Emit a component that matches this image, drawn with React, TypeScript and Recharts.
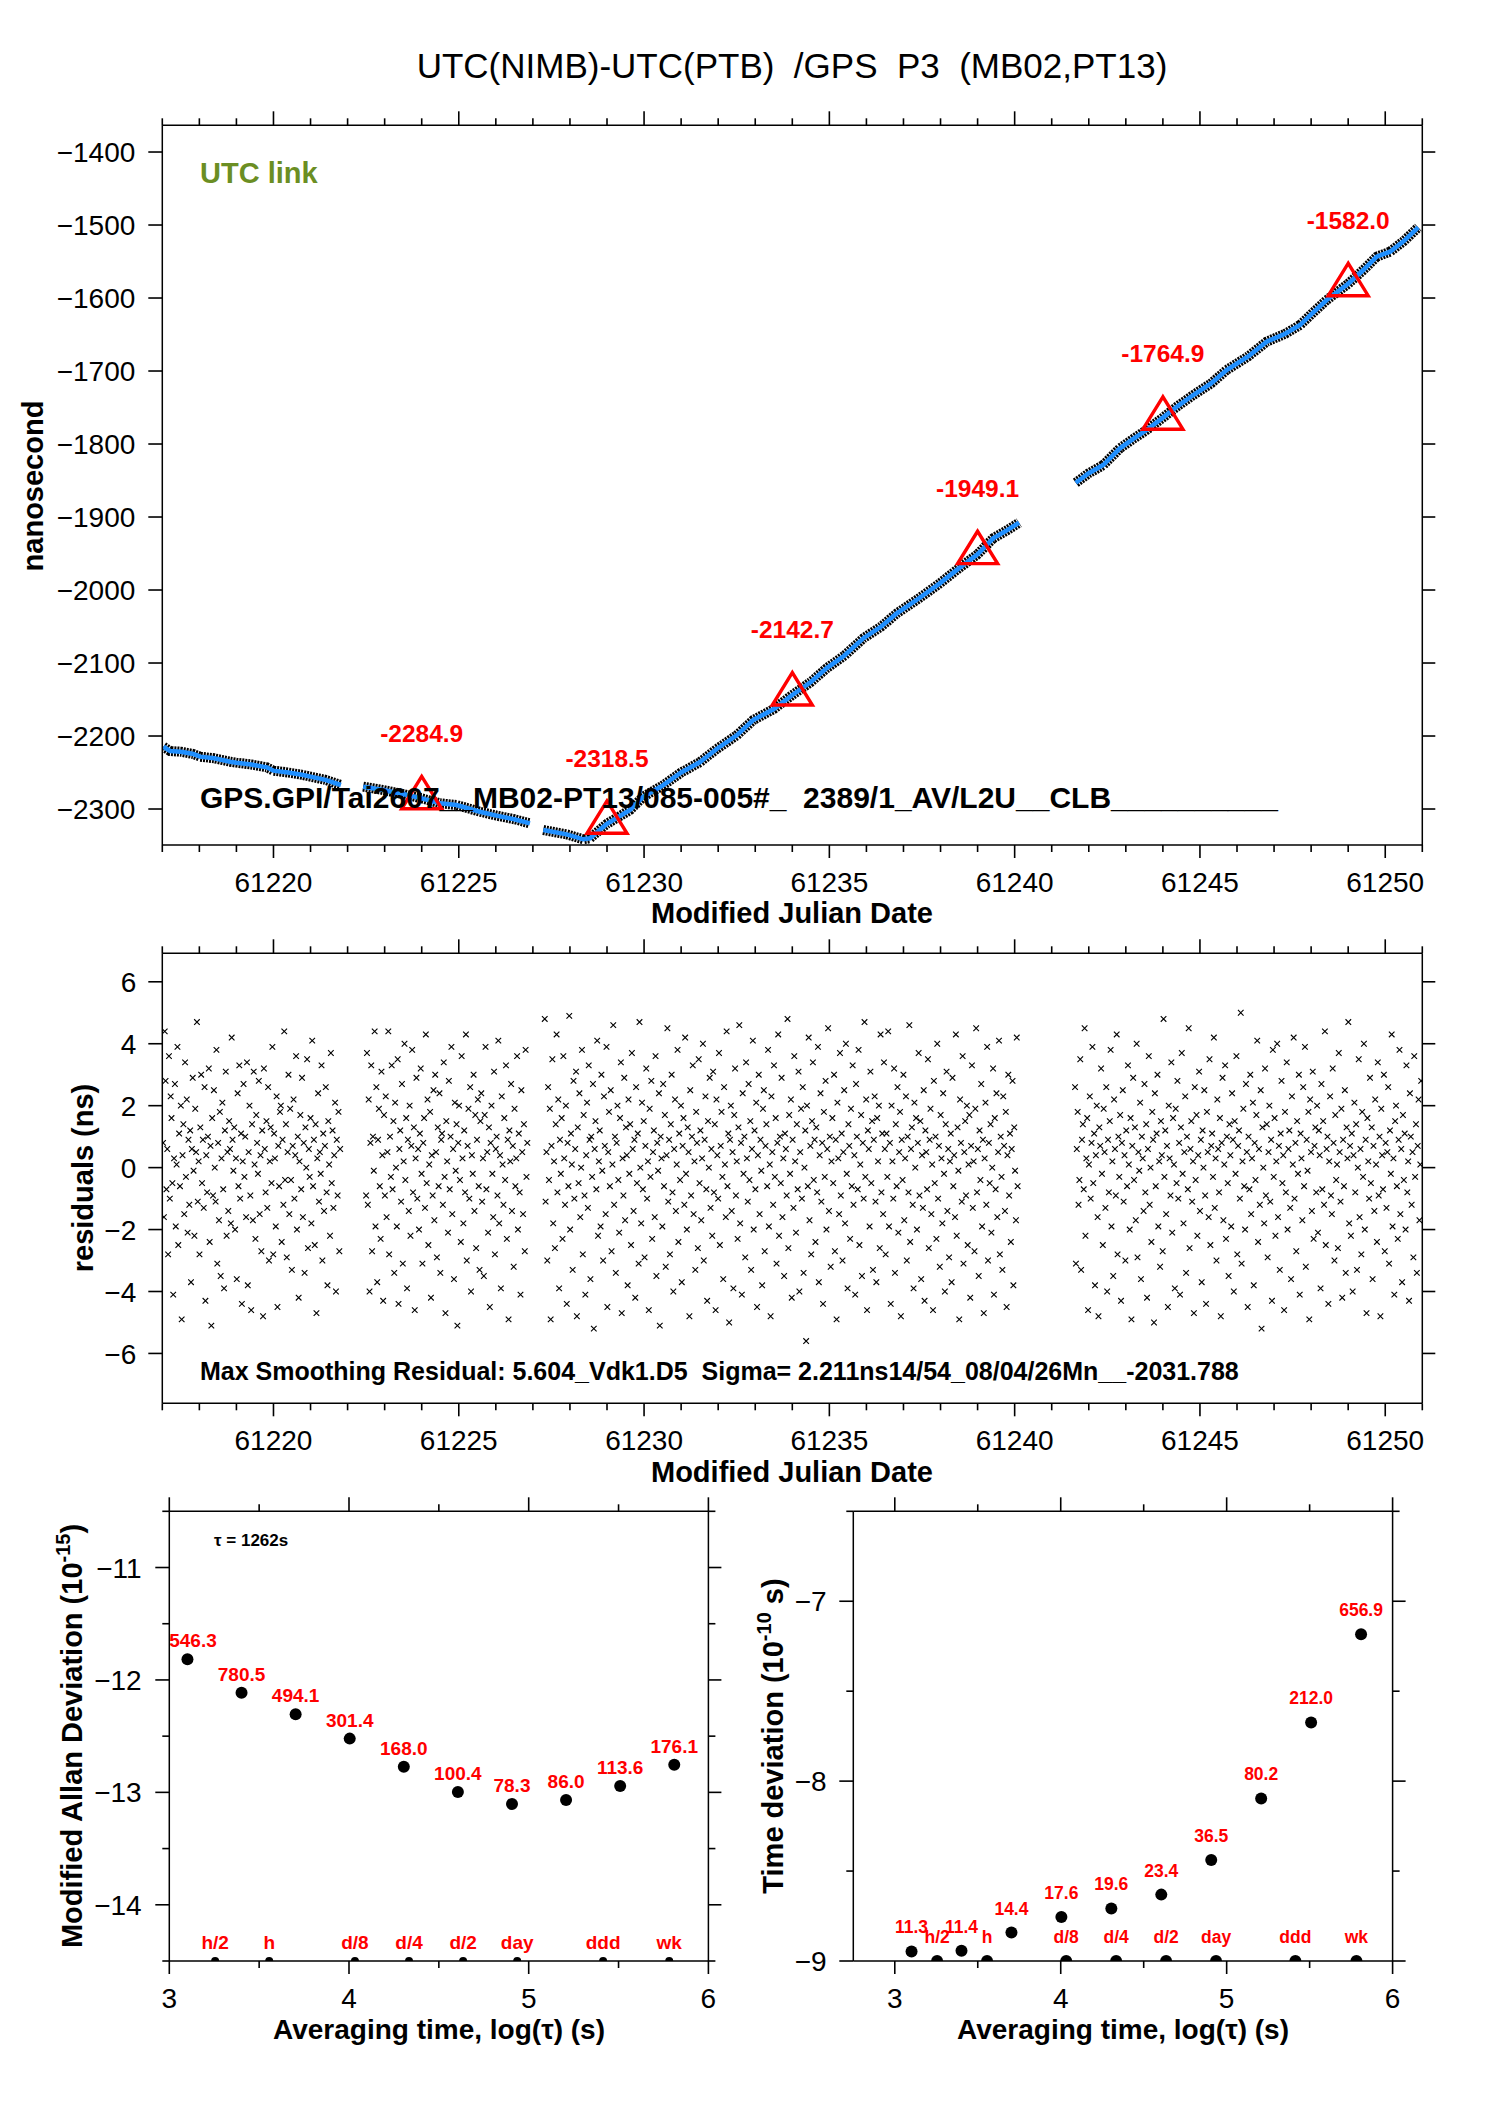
import React from 'react'
import { ComposedChart, Line, Scatter, XAxis, YAxis } from 'recharts'

const FONT = '"Liberation Sans", Arial, Helvetica, sans-serif'
const PAGE_W = 1488
const PAGE_H = 2105
const BLUE = '#1f8fff'
const RED = '#ff0000'

// ---------- top panel: smoothed UTC link (MJD, ns) ----------
const segAx = [61217.03, 61217.21, 61217.5, 61217.84, 61218.02, 61218.4, 61218.83, 61219.0, 61219.4, 61219.82, 61220.0, 61220.4, 61220.8, 61221.0, 61221.4, 61221.82]
const segAy = [-2214.7, -2220.5, -2221.5, -2224.7, -2228.3, -2230.5, -2235.2, -2236.5, -2239, -2242.9, -2247.5, -2250, -2253.4, -2255.7, -2260, -2267.1]
const segBx = [61222.42, 61222.96, 61223.5, 61224.0, 61224.49, 61224.94, 61225.57, 61226.02, 61226.5, 61226.92]
const segBy = [-2269.4, -2274, -2279.5, -2285.4, -2292.2, -2294.5, -2303.7, -2309, -2314, -2319.6]
const segCx = [61227.28, 61227.91, 61228.36, 61228.54, 61228.99, 61229.62, 61229.98, 61230.5, 61231.0, 61231.5, 61231.96, 61232.5, 61232.95, 61233.5, 61234.0, 61234.5, 61234.93, 61235.4, 61235.92, 61236.4, 61236.82, 61237.4, 61237.98, 61238.5, 61239.0, 61239.42, 61239.8, 61240.12]
const segCy = [-2328.8, -2334.7, -2341.5, -2340.1, -2320.5, -2301.4, -2283.1, -2268, -2250, -2236, -2217.8, -2199, -2178, -2163, -2143.8, -2126, -2107, -2090, -2066, -2050, -2032, -2012, -1990.9, -1970, -1951, -1929.2, -1918, -1907.8]
const segDx = [61241.65, 61242.0, 61242.39, 61242.84, 61243.2, 61243.56, 61244.01, 61244.4, 61244.82, 61245.3, 61245.72, 61246.3, 61246.8, 61247.3, 61247.7, 61248.05, 61248.42, 61249.0, 61249.4, 61249.77, 61250.13, 61250.5, 61250.89]
const segDy = [-1853, -1840, -1828.8, -1805.9, -1793, -1780.8, -1763.5, -1748, -1732.9, -1717, -1698.6, -1680, -1659.8, -1649, -1637, -1620, -1602.7, -1580.5, -1562, -1543.4, -1536.5, -1522, -1503.2]

const calibMjd = [61224, 61229, 61234, 61239, 61244, 61249]
const calibNs = [-2284.9, -2318.5, -2142.7, -1949.1, -1764.9, -1582.0]

const mjdTicks = [61217, 61218, 61219, 61220, 61221, 61222, 61223, 61224, 61225, 61226, 61227, 61228, 61229, 61230, 61231, 61232, 61233, 61234, 61235, 61236, 61237, 61238, 61239, 61240, 61241, 61242, 61243, 61244, 61245, 61246, 61247, 61248, 61249, 61250, 61251]
const nsTicks = [-2300, -2200, -2100, -2000, -1900, -1800, -1700, -1600, -1500, -1400]

// ---------- residuals (ns), one list per continuous stretch ----------
const resSpanA = [61217.02, 61221.8]
const resA = [
  0.8, -1.6, 4.4, 2.8, -0.7, 0.6, -2.8, 3.6, -1.0, 2.3, 1.6, -0.5, -4.1, 0.3, 2.7, -1.9, 0.1, 3.9, -2.5, 1.1,
  -0.6, 2.0, -4.9, 0.4, 1.4, -1.5, 3.4, -0.3, 2.2, -2.1, 0.9, -1.2, 1.2, -3.7, 0.6, 2.9, -0.1, -2.2, 1.9, 0.5,
  4.7, -1.1, 0.2, -2.8, 1.3, 3.0, -0.5, 0.9, -1.3, 2.6, -4.3, 0.4, -0.8, 1.0, 3.2, -2.4, 0.7, -5.1, 1.6, -0.9,
  2.5, 0.0, -1.1, 3.8, -3.1, 0.8, -1.7, 1.8, -3.5, 0.3, 2.1, -0.7, -3.9, 1.2, 3.1, -2.2, 0.5, -1.4, 1.5, 0.6,
  -1.8, 4.2, 0.9, -0.1, 1.3, -2.0, 0.3, -3.6, 2.4, -0.6, 3.3, -1.0, 1.1, -4.4, 0.2, 2.7, -0.3, 1.0, -1.6, 3.4,
  -3.8, 0.5, 2.0, -0.9, -4.6, 1.4, -1.7, 3.1, 0.1, -2.3, 1.7, 0.8, -0.2, 2.8, -1.5, 0.4, -2.7, 1.2, -4.8, 3.2,
  0.6, -0.8, 1.5, -1.3, 2.6, -3.0, 0.2, 1.3, -0.5, 3.9, -2.8, 1.1, 0.3, -1.9, 2.3, -4.5, 0.7, -0.6, 1.8, 2.0,
  -2.4, 0.9, -1.2, 4.4, -0.4, 1.4, -2.9, 0.5, 3.0, -1.5, 1.9, -0.4, -3.3, 0.7, 2.2, -1.0, 0.4, 3.6, -2.0, 1.0,
  -4.2, 0.2, 1.7, -0.7, 2.9, -1.6, 0.8, -3.4, 1.3, 0.0, 3.5, -2.6, 0.6, -0.3, 1.6, -1.8, 4.1, -0.6, 0.9, -2.5,
  1.4, -4.7, 0.3, 2.4, -1.1, 0.5, -0.2, 3.3, -3.0, 1.1, -1.4, 0.7, 2.6, -0.8, -3.8, 1.5, 0.1, -2.2, 3.7, -0.5,
  1.2, -1.3, 0.4, 2.1, -4.0, 0.9, -0.9, 1.8, -2.7, 0.6,
]
const resSpanB = [61222.5, 61226.85]
const resB = [
  -0.9, 3.7, -1.2, 2.2, -4.0, 0.8, 3.3, -2.7, 1.0, -0.1, 4.4, -1.9, 2.6, -3.7, 0.9, 1.9, -0.6, -2.3, 3.1, 0.4,
  -4.3, 1.7, -0.9, 2.3, -1.6, 0.5, 4.4, -2.8, 1.0, -0.3, 3.3, -0.7, 1.5, -3.4, 2.1, 0.0, -1.9, 3.5, -4.4, 0.6,
  1.2, -1.1, 2.7, -3.1, 0.2, 4.0, -0.4, 1.6, -3.9, 0.9, -1.4, 2.0, -2.2, 0.7, 3.8, -0.8, 1.3, -4.6, 0.3, 2.9,
  -1.0, 0.6, -2.0, 1.1, 3.2, -0.2, -3.1, 0.8, 1.6, -1.3, 4.3, -0.5, 2.2, -2.5, 0.1, 1.8, -4.2, 0.4, -0.9, 2.5,
  -1.7, 3.0, 0.5, -2.9, 1.3, -0.6, 2.4, -3.4, 0.9, 1.1, -1.2, 3.4, -0.3, -4.7, 1.5, 0.2, -2.1, 2.8, -0.7, 1.0,
  3.9, -1.5, 0.6, -3.6, 2.1, -0.1, 1.4, -5.1, 0.8, 2.0, -0.4, -2.4, 3.6, 0.3, -1.8, 1.2, -0.8, 4.3, -3.0, 0.7,
  1.9, -1.0, 2.6, -4.0, 0.4, -0.2, 3.0, -1.4, 1.7, -2.6, 0.9, 2.2, -0.6, -3.3, 1.5, 2.4, -1.1, 0.3, -3.5, 1.7,
  3.9, -0.7, 0.5, -2.1, 1.3, -4.5, 0.8, 2.0, -0.2, -1.6, 3.1, -2.8, 0.6, 1.0, -0.9, 4.1, -1.8, 0.4, -3.9, 2.3,
  0.1, -1.2, 1.6, -0.4, 3.3, -2.3, 0.9, -4.9, 1.2, 0.2, 2.7, -1.4, 0.7, -3.2, 1.9, -0.6, 0.3, 3.6, -2.0, 1.1,
  -0.8, -4.1, 2.5, 0.5, -1.5, 1.4, -2.7, 3.8, -0.3, 0.8,
]
const resSpanC = [61227.32, 61240.08]
const resC = [
  4.8, -1.1, 0.5, -3.0, 2.6, -0.4, 1.9, -4.9, 0.7, 3.5, -1.8, 0.2, -2.6, 1.4, 4.3, -0.8, 2.2, -3.9, 0.9, -0.2,
  1.6, -2.3, 3.6, 0.3, -1.2, 2.0, -4.4, 0.8, -0.6, 4.9, -2.0, 1.1, 0.1, -3.3, 2.8, -1.0, 0.6, 3.1, -4.8, 1.3,
  -0.5, 2.4, -1.6, 0.0, 3.8, -2.8, 1.7, -0.9, -4.1, 0.4, 2.1, -1.3, 3.3, 0.9, -3.6, 1.0, -0.3, 2.7, -5.2, 0.6,
  1.5, -0.7, 4.1, -2.2, 0.2, 1.2, -1.9, 3.0, -0.1, -3.0, 2.3, 0.7, -1.5, 3.9, -4.5, 0.5, 1.8, -0.6, 2.5, -2.7,
  0.1, 4.6, -1.2, 1.0, -3.4, 0.8, 2.0, -0.4, -2.1, 1.6, 3.4, -4.7, 0.3, -0.9, 2.9, -1.7, 1.3, 0.4, -3.8, 2.2,
  -0.2, 1.4, -2.5, 3.7, 0.6, -1.4, 0.9, -4.2, 2.6, -0.5, 1.1, -3.1, 4.7, 0.0, -1.8, 2.1, -0.7, 1.5, -2.9, 0.7,
  3.2, -1.0, 0.2, -4.6, 1.9, -0.3, 2.8, -2.3, 0.5, 1.2, -1.6, 3.6, -3.5, 0.8, -0.1, 2.4, -5.1, 1.0, 0.3, -1.9,
  2.7, -0.6, 1.7, -3.2, 0.4, 4.5, -1.1, 0.9, -2.8, 1.4, 3.0, -0.8, -4.0, 0.6, 2.2, -1.4, 0.1, 3.8, -2.4, 1.1,
  -0.4, 2.0, -3.7, 0.7, 1.6, -1.2, 4.2, -0.2, -2.0, 1.3, 0.5, -4.8, 2.5, -0.9, 1.0, 3.3, -1.5, 0.2, -3.3, 1.8,
  0.8, -2.6, 3.5, -0.5, 1.2, -1.7, 0.3, 4.0, -3.0, 0.9, 2.3, -0.7, -4.3, 1.5, 0.0, 2.9, -1.3, 0.6, -2.2, 3.1,
  -0.8, 1.4, -4.6, 2.2, 0.4, -1.0, 3.7, -2.5, 0.7, 1.8, -0.3, -3.6, 2.6, 0.1, -1.6, 4.4, -0.6, 1.1, -5.0, 0.9,
  2.0, -1.4, 0.5, -3.9, 1.7, 3.2, -0.9, 0.2, -2.3, 1.3, 4.6, -1.8, 0.8, -4.1, 2.4, -0.2, 1.0, -2.9, 3.4, 0.3,
  -1.1, 2.7, -0.4, 1.5, -3.3, 0.6, 4.1, -2.0, 1.2, -0.7, 2.1, -4.5, 0.4, 3.0, -1.5, 0.9, -0.1, -3.8, 1.9, 2.5,
  -2.7, 0.7, 1.4, -0.6, 3.8, -1.9, 0.1, -4.8, 2.3, 0.5, -1.2, 3.3, -0.3, 1.6, -3.1, 0.8, 4.3, -2.2, 1.0, -0.5,
  2.9, -1.6, 0.3, -3.5, 1.1, 0.6, -0.9, 4.8, -2.6, 1.7, -0.2, 2.2, -4.2, 0.9, -1.3, 3.6, 0.2, -2.1, 1.4, -0.7,
  3.1, -4.0, 0.5, 1.9, -1.0, 2.6, -3.4, 0.0, 1.2, -5.6, 2.0, -0.6, 4.2, -1.7, 0.7, -2.8, 1.5, 3.4, -0.4, 0.9,
  -2.4, 1.3, -0.8, 3.9, -3.7, 0.4, 2.4, -1.1, 0.8, -4.4, 1.8, -0.3, 2.8, -2.0, 0.6, 4.5, -1.4, 1.0, -3.2, 0.2,
  1.6, -0.5, 3.0, -2.7, 0.9, -4.9, 2.1, 0.3, -1.5, 3.7, -0.9, 1.1, -3.0, 0.5, 2.5, -1.8, 4.0, -0.2, -3.9, 1.4,
  0.7, -2.3, 1.9, -0.6, 3.3, -1.2, 0.4, -4.1, 2.7, 1.0, -0.7, 3.8, -2.5, 0.1, 1.7, -3.5, 0.8, -1.0, 4.7, -0.3,
  2.2, -4.6, 1.2, 0.6, -1.9, 3.1, -0.5, 1.5, -3.3, 0.9, 2.3, -1.1, -3.7, 1.6, 0.2, 2.0, -2.6, 4.3, -0.8, 1.1,
  -1.5, 3.4, 0.6, -2.8, 1.1, -0.3, 4.4, -1.9, 0.8, -4.4, 2.0, 0.2, -1.0, 3.2, -3.4, 1.4, -0.6, 2.6, -2.1, 0.5,
  1.8, -4.8, 0.9, -0.4, 3.0, -1.7, 0.3, 2.3, -3.0, 1.0, -0.8, 4.6, -2.4, 0.6, 1.3, -1.2, -3.9, 2.1, 0.0, 1.6,
  -2.0, 0.8, 3.7, -0.9, 1.5, -3.6, 0.4, -1.3, 2.5, -4.3, 1.2, 0.5, -0.7, 3.5, -2.6, 0.9, 1.9, -1.5, 0.1, -4.6,
  2.8, -0.5, 1.0, -2.3, 4.0, -1.0, 0.7, -3.2, 1.7, 0.3, -1.8, 2.4, -0.2, -4.0, 1.4, 3.1, -1.4, 0.6, -2.9, 0.2,
  1.1, -3.7, 2.9, -0.6, 0.4, -1.6, 4.3, -2.2, 1.3, -0.1, -4.9, 2.2, 0.8, -1.1, 3.6, -3.1, 0.5, 1.5, -0.9, 2.0,
  -2.5, 0.1, 1.7, -4.2, 0.7, 3.3, -1.3, 0.2, -2.7, 1.9, 4.5, -0.8, 0.6, -3.5, 1.2, -0.4, 2.7, -1.9, 0.9, -4.7,
  0.3, 2.1, -1.2, 3.9, -3.0, 0.8, -0.5, 1.4, -2.1, 0.0, 3.2, -4.1, 1.6, -0.7, 2.4, -1.6, 0.5, 4.1, -2.8, 1.0,
  -0.3, -3.3, 2.3, 0.7, -1.4, 1.8, -4.5, 0.4, 3.0, -0.9, 1.1, -2.4, 0.6, 2.8, -3.8, 1.3, -0.1, -1.7, 4.2, -0.6,
]
const resSpanD = [61241.63, 61250.97]
const resD = [
  2.6, -3.1, 0.6, 1.8, -1.2, -0.4, 3.5, -3.3, 0.9, 1.4, -0.7, 4.5, -2.2, 0.3, 1.6, -4.6, 0.1, 2.3, -1.0, 0.8,
  3.9, -0.5, 1.1, -3.8, 0.4, 2.0, -1.6, -4.8, 1.3, 0.7, 3.2, -0.2, -2.5, 1.9, 0.5, -1.3, 2.6, -4.0, 0.9, -0.8,
  1.5, 3.8, -1.9, 0.2, -3.5, 2.2, 0.6, -0.9, 4.3, -2.8, 1.0, -0.3, 1.7, -4.3, 0.8, 2.5, -1.1, 0.4, -3.0, 1.2,
  -0.6, 3.3, 0.1, -2.0, 1.6, -4.9, 0.7, 2.9, -0.4, 1.3, -1.7, 4.0, -2.9, 0.5, -0.1, 2.1, -3.6, 1.0, 0.3, -1.4,
  2.7, -0.8, 1.4, -4.2, 0.6, 3.6, -1.2, 0.0, -2.4, 1.8, 0.9, -5.0, 2.4, -0.6, 1.1, 3.0, -1.9, 0.2, -3.2, 1.5,
  0.4, -2.7, 4.8, -0.3, 1.2, -1.5, 0.7, -4.5, 2.0, 0.3, -0.9, 3.4, -2.1, 1.6, 0.1, -3.9, 1.9, -0.5, 2.8, -1.0,
  0.8, -4.1, 1.3, 3.7, -0.2, -1.8, 0.5, 2.3, -3.4, 1.0, -0.7, 4.5, -2.6, 0.6, 1.5, -1.1, 0.2, -4.7, 2.6, -0.4,
  1.7, -2.2, 0.4, 3.1, -1.4, 0.9, -3.7, 1.2, 0.0, 2.5, -0.9, -4.4, 1.8, 0.5, -1.6, 3.5, -2.5, 0.7, 1.1, -0.3,
  4.2, -1.3, 0.3, -3.0, 2.2, 0.6, -0.8, 1.6, -4.8, 0.8, 2.9, -1.7, 0.1, 3.3, -2.3, 1.0, -0.5, -3.5, 1.4, 0.4,
  -1.9, 2.4, 0.9, -4.0, 1.5, -0.2, 3.6, -2.8, 0.7, 1.2, -1.0, 5.0, -3.1, 0.2, 1.9, -0.6, -2.0, 2.7, 0.5, -4.5,
  1.0, -0.7, 3.0, -1.5, 0.3, 2.1, -3.8, 0.8, -0.4, 1.7, 4.1, -2.4, 0.6, -1.2, 2.5, -5.2, 1.3, 0.0, -1.8, 3.2,
  -0.9, 1.4, -2.9, 0.5, 2.0, -1.1, 0.9, -4.3, 3.8, -0.3, 1.6, -2.2, 0.2, 4.0, -1.6, 0.7, -3.3, 1.1, 2.8, -0.5,
  0.4, -4.6, 1.8, -0.8, 3.4, -2.0, 0.6, 1.2, -1.3, -3.6, 2.3, 0.1, 4.2, -1.0, 0.8, -2.7, 1.5, -0.2, 3.0, -4.1,
  1.1, 0.3, -1.7, 2.6, -0.6, 3.9, -3.2, 0.9, -0.1, 1.8, -4.9, 2.2, 0.5, -1.4, 3.1, -2.3, 0.7, 1.3, -0.8, 2.0,
  -2.1, 1.2, 0.4, -3.9, 2.7, -0.7, 1.5, -1.2, 4.4, -2.5, 0.6, 1.0, -4.4, 0.2, 2.3, -0.9, -1.5, 3.2, 0.8, -3.0,
  1.7, -0.4, 0.1, -2.6, 3.7, 0.5, -1.1, 1.9, -4.2, 0.9, -0.6, 2.5, -3.4, 1.3, 0.3, 4.7, -1.8, 0.7, -2.2, 1.1,
  -4.0, 0.4, 2.1, -0.8, 1.4, -3.3, 0.0, 3.5, -1.6, 0.6, -2.8, 1.8, -0.3, 4.0, -2.0, 0.9, -4.7, 1.6, 0.2, -1.0,
  2.9, -0.5, 1.3, -3.6, 0.7, -1.4, 2.2, 0.1, -2.4, 3.4, -0.9, 1.0, -4.8, 1.9, 0.4, -0.7, 3.0, -2.7, 0.8, -1.3,
  0.5, 2.6, -3.1, 1.2, -0.2, 4.3, -1.9, 0.3, -4.1, 1.5, 2.0, -0.6, -2.3, 0.9, 3.8, -1.5, 0.6, -3.7, 1.7, -0.4,
  1.1, -2.0, 3.3, -0.8, 0.2, -4.3, 2.4, 1.0, -1.2, 0.5, -2.9, 3.6, -0.3, 1.4, -3.4, 0.7, 2.2, -1.7, 0.1, 2.8,
]
const resTicks = [-6, -4, -2, 0, 2, 4, 6]

// ---------- stability panels ----------
const tauLog = [3.101, 3.402, 3.703, 4.004, 4.305, 4.606, 4.907, 5.208, 5.509, 5.81]
const mdevLog = [-11.816, -12.113, -12.306, -12.522, -12.773, -12.997, -13.104, -13.068, -12.944, -12.755]
const mdevNote = ['546.3', '780.5', '494.1', '301.4', '168.0', '100.4', '78.3', '86.0', '113.6', '176.1']
const tdevLog = [-8.947, -8.943, -8.842, -8.755, -8.708, -8.631, -8.438, -8.096, -7.674, -7.183]
const tdevNote = ['11.3', '11.4', '14.4', '17.6', '19.6', '23.4', '36.5', '80.2', '212.0', '656.9']
const markLog = [3.255, 3.556, 4.033, 4.334, 4.635, 4.936, 5.414, 5.782]
const markName = ['h/2', 'h', 'd/8', 'd/4', 'd/2', 'day', 'ddd', 'wk']
const logTauTicks = [3, 3.5, 4, 4.5, 5, 5.5, 6]
const mdevTicks = [-14.5, -14, -13.5, -13, -12.5, -12, -11.5, -11, -10.5]
const tdevTicks = [-9, -8.5, -8, -7.5, -7, -6.5]

// ---------- tables ----------
const zip = (xs: number[], ys: number[]) => xs.map((x, i) => ({ x, y: ys[i] }))
const spread = (span: number[], vals: number[]) =>
  vals.map((y, i) => ({ x: span[0] + (i * (span[1] - span[0])) / (vals.length - 1), y }))

const topSegs = [zip(segAx, segAy), zip(segBx, segBy), zip(segCx, segCy), zip(segDx, segDy)]
const calib = calibMjd.map((x, i) => ({ x, y: calibNs[i], label: calibNs[i].toFixed(1) }))
const resData = [...spread(resSpanA, resA), ...spread(resSpanB, resB), ...spread(resSpanC, resC), ...spread(resSpanD, resD)]
const mdevData = tauLog.map((x, i) => ({ x, y: mdevLog[i], label: mdevNote[i] }))
const tdevData = tauLog.map((x, i) => ({ x, y: tdevLog[i], label: tdevNote[i] }))
const mdevMarks = markLog.map((x, i) => ({ x, y: -14.5, label: markName[i] }))
const tdevMarks = markLog.map((x, i) => ({ x, y: -9, label: markName[i] }))

// ---------- axis helpers ----------
const minus = (v: number) => (v < 0 ? '\u2212' + String(Math.abs(v)) : String(v))
const isStep = (v: number, step: number) => Math.abs(v / step - Math.round(v / step)) < 1e-6
type Side = 'bottom' | 'top' | 'left' | 'right'
type TickLabel = { gap: number; size: number }

const tickFactory = (side: Side, step: number, majorLen: number, minorLen: number, lab?: TickLabel) => (props: any) => {
  const { x, y, payload } = props
  const v = payload.value as number
  const major = isStep(v, step)
  const len = major ? majorLen : minorLen
  const x2 = side === 'left' ? x - len : side === 'right' ? x + len : x
  const y2 = side === 'bottom' ? y + len : side === 'top' ? y - len : y
  return (
    <g>
      <line x1={x} y1={y} x2={x2} y2={y2} stroke="#000" strokeWidth={1.6} />
      {lab && major && side === 'bottom' && (
        <text x={x} y={y + lab.gap} textAnchor="middle" fontSize={lab.size} fontFamily={FONT} fill="#000">
          {minus(v)}
        </text>
      )}
      {lab && major && side === 'left' && (
        <text x={x - lab.gap} y={y} dy="0.36em" textAnchor="end" fontSize={lab.size} fontFamily={FONT} fill="#000">
          {minus(v)}
        </text>
      )}
    </g>
  )
}

const AXIS = { stroke: '#000', strokeWidth: 1.5 }

type FrameOpts = {
  xDomain: [number, number]
  yDomain: [number, number]
  xTicks: number[]
  yTicks: number[]
  xStep: number
  yStep: number
  yGap: number
  yMinor: number
}

// every axis is 1px thick so the frame lines sit exactly on the plot edges
const frameAxes = (o: FrameOpts) => [
  <XAxis key="xb" xAxisId="b" orientation="bottom" type="number" dataKey="x" domain={o.xDomain} allowDataOverflow
    ticks={o.xTicks} interval={0} height={1} tickSize={0} tickMargin={0} tickLine={false} axisLine={AXIS}
    tick={tickFactory('bottom', o.xStep, 13, 7, { gap: 47, size: 28 })} />,
  <XAxis key="xt" xAxisId="t" orientation="top" type="number" dataKey="x" domain={o.xDomain} allowDataOverflow
    ticks={o.xTicks} interval={0} height={1} tickSize={0} tickMargin={0} tickLine={false} axisLine={AXIS}
    tick={tickFactory('top', o.xStep, 14, 7)} />,
  <YAxis key="yl" yAxisId="l" orientation="left" type="number" dataKey="y" domain={o.yDomain} allowDataOverflow
    ticks={o.yTicks} interval={0} width={1} tickSize={0} tickMargin={0} tickLine={false} axisLine={AXIS}
    tick={tickFactory('left', o.yStep, 14, o.yMinor, { gap: o.yGap, size: 28 })} />,
  <YAxis key="yr" yAxisId="r" orientation="right" type="number" dataKey="y" domain={o.yDomain} allowDataOverflow
    ticks={o.yTicks} interval={0} width={1} tickSize={0} tickMargin={0} tickLine={false} axisLine={AXIS}
    tick={tickFactory('right', o.yStep, 13, o.yMinor)} />,
]

const boxMargin = (l: number, t: number, r: number, b: number) => ({ left: l - 1, top: t - 1, right: PAGE_W - r - 1, bottom: PAGE_H - b - 1 })

// ---------- marks ----------
const TriangleMark = (p: any) => {
  const { cx, cy, payload } = p
  return (
    <g>
      <polygon points={`${cx},${cy - 21.6} ${cx - 20},${cy + 10.8} ${cx + 20},${cy + 10.8}`} fill="none" stroke={RED} strokeWidth={3.4} />
      <text x={cx} y={cy - 56} textAnchor="middle" fontSize={24.5} fontWeight="bold" fontFamily={FONT} fill={RED}>
        {payload.label}
      </text>
    </g>
  )
}

const CrossMark = (p: any) => {
  const { cx, cy } = p
  const s = 2.8
  return <path d={`M${cx - s},${cy - s}L${cx + s},${cy + s}M${cx - s},${cy + s}L${cx + s},${cy - s}`} stroke="#000" strokeWidth={1.1} fill="none" />
}

const dotMark = (lift: number, size: number, minX: number) => (p: any) => {
  const { cx, cy, payload } = p
  return (
    <g>
      <circle cx={cx} cy={cy} r={6} fill="#000" />
      <text x={Math.max(cx, minX)} y={cy - lift} textAnchor="middle" fontSize={size} fontWeight="bold" fontFamily={FONT} fill={RED}>
        {payload.label}
      </text>
    </g>
  )
}

const spanMark = (lift: number, size: number, r: number) => (p: any) => {
  const { cx, cy, payload } = p
  return (
    <g>
      <path d={`M${cx - r},${cy} A${r},${r} 0 0 1 ${cx + r},${cy} Z`} fill="#000" />
      <text x={cx} y={cy - lift} textAnchor="middle" fontSize={size} fontWeight="bold" fontFamily={FONT} fill={RED}>
        {payload.label}
      </text>
    </g>
  )
}

const layer: React.CSSProperties = { position: 'absolute', left: 0, top: 0 }

const rotated = (x: number, y: number, children: React.ReactNode) => (
  <text x={x} y={y} transform={`rotate(-90 ${x} ${y})`} textAnchor="middle" fontSize={29} fontWeight="bold" fontFamily={FONT} fill="#000">
    {children}
  </text>
)

export default function App() {
  return (
    <div style={{ position: 'absolute', left: 0, top: 0, width: PAGE_W, height: PAGE_H, background: '#fff' }}>
      {/* top: UTC link */}
      <div style={layer}>
        <ComposedChart width={PAGE_W} height={PAGE_H} margin={boxMargin(162.3, 125.3, 1422.3, 845)}>
          {frameAxes({ xDomain: [61217, 61251], yDomain: [-2349.3, -1363.4], xTicks: mjdTicks, yTicks: nsTicks, xStep: 5, yStep: 100, yGap: 27, yMinor: 14 })}
          {topSegs.map((d, i) => (
            <Line key={'k' + i} data={d} dataKey="y" xAxisId="t" yAxisId="r" stroke="#000" strokeWidth={10} strokeDasharray="2 1"
              dot={false} activeDot={false} isAnimationActive={false} />
          ))}
          {topSegs.map((d, i) => (
            <Line key={'b' + i} data={d} dataKey="y" xAxisId="b" yAxisId="l" stroke={BLUE} strokeWidth={4.5}
              dot={false} activeDot={false} isAnimationActive={false} />
          ))}
          <Scatter data={calib} xAxisId="b" yAxisId="l" shape={TriangleMark} isAnimationActive={false} />
        </ComposedChart>
      </div>

      {/* residuals */}
      <div style={layer}>
        <ComposedChart width={PAGE_W} height={PAGE_H} margin={boxMargin(162.3, 953.3, 1422.3, 1403.3)}>
          {frameAxes({ xDomain: [61217, 61251], yDomain: [-7.61, 6.92], xTicks: mjdTicks, yTicks: resTicks, xStep: 5, yStep: 2, yGap: 26, yMinor: 14 })}
          <Scatter data={resData} xAxisId="b" yAxisId="l" shape={CrossMark} isAnimationActive={false} />
        </ComposedChart>
      </div>

      {/* modified Allan deviation */}
      <div style={layer}>
        <ComposedChart width={PAGE_W} height={PAGE_H} margin={boxMargin(169.3, 1511.3, 708.4, 1961)}>
          {frameAxes({ xDomain: [3, 6], yDomain: [-14.5, -10.5], xTicks: logTauTicks, yTicks: mdevTicks, xStep: 1, yStep: 1, yGap: 27.6, yMinor: 7 })}
          <Scatter data={mdevMarks} xAxisId="b" yAxisId="l" shape={spanMark(12, 19, 4)} isAnimationActive={false} />
          <Scatter data={mdevData} xAxisId="b" yAxisId="l" shape={dotMark(12, 19, 193)} isAnimationActive={false} />
        </ComposedChart>
      </div>

      {/* time deviation */}
      <div style={layer}>
        <ComposedChart width={PAGE_W} height={PAGE_H} margin={boxMargin(853.3, 1511.3, 1392.6, 1961)}>
          {frameAxes({ xDomain: [2.75, 6], yDomain: [-9, -6.5], xTicks: logTauTicks, yTicks: tdevTicks, xStep: 1, yStep: 1, yGap: 26.6, yMinor: 7 })}
          <Scatter data={tdevMarks} xAxisId="b" yAxisId="l" shape={spanMark(18, 17.5, 6)} isAnimationActive={false} />
          <Scatter data={tdevData} xAxisId="b" yAxisId="l" shape={dotMark(18, 17.5, 0)} isAnimationActive={false} />
        </ComposedChart>
      </div>

      {/* titles and notes */}
      <svg width={PAGE_W} height={PAGE_H} style={{ ...layer, pointerEvents: 'none' }}>
        <text x={792} y={78.3} textAnchor="middle" fontSize={35} fontFamily={FONT} fill="#000" style={{ whiteSpace: 'pre' }}>
          {'UTC(NIMB)-UTC(PTB)  /GPS  P3  (MB02,PT13)'}
        </text>
        <text x={200} y={182.7} fontSize={29} fontWeight="bold" fontFamily={FONT} fill="#6b8e23">UTC link</text>
        <text x={200} y={808} fontSize={30} fontWeight="bold" fontFamily={FONT} fill="#000" style={{ whiteSpace: 'pre' }}>
          {'GPS.GPI/Tai2607__MB02-PT13/085-005#_  2389/1_AV/L2U__CLB__________'}
        </text>
        {rotated(43, 486, 'nanosecond')}
        <text x={792} y={922.5} textAnchor="middle" fontSize={29} fontWeight="bold" fontFamily={FONT} fill="#000">Modified Julian Date</text>

        {rotated(93, 1178, 'residuals (ns)')}
        <text x={200} y={1380} fontSize={25} fontWeight="bold" fontFamily={FONT} fill="#000" style={{ whiteSpace: 'pre' }}>
          {'Max Smoothing Residual: 5.604_Vdk1.D5  Sigma= 2.211ns14/54_08/04/26Mn__-2031.788'}
        </text>
        <text x={792} y={1481.5} textAnchor="middle" fontSize={29} fontWeight="bold" fontFamily={FONT} fill="#000">Modified Julian Date</text>

        {rotated(82, 1736, (
          <>
            Modified Allan Deviation (10
            <tspan dy={-12} fontSize={20}>-15</tspan>
            <tspan dy={12}>)</tspan>
          </>
        ))}
        <text x={214} y={1545.7} fontSize={17} fontWeight="bold" fontFamily={FONT} fill="#000">{'\u03c4 = 1262s'}</text>
        <text x={439} y={2039} textAnchor="middle" fontSize={28} fontWeight="bold" fontFamily={FONT} fill="#000">{'Averaging time, log(\u03c4) (s)'}</text>

        {rotated(783, 1736, (
          <>
            Time deviation (10
            <tspan dy={-12} fontSize={20}>-10</tspan>
            <tspan dy={12}> s)</tspan>
          </>
        ))}
        <text x={1123} y={2039} textAnchor="middle" fontSize={28} fontWeight="bold" fontFamily={FONT} fill="#000">{'Averaging time, log(\u03c4) (s)'}</text>
      </svg>
    </div>
  )
}
